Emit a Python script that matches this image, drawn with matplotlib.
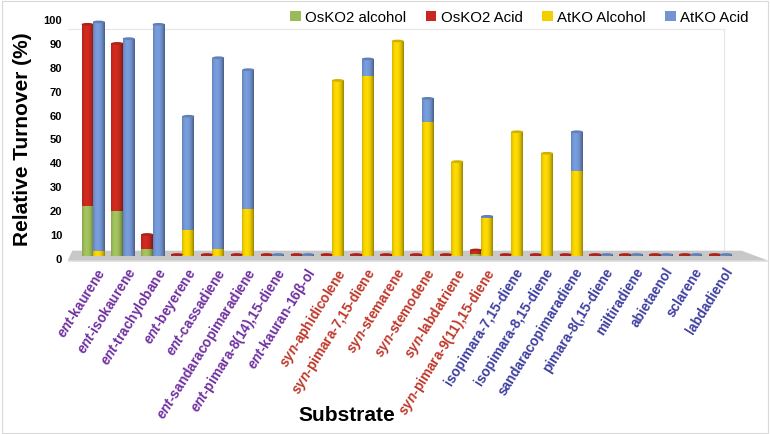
import matplotlib
matplotlib.use("Agg")
import matplotlib.pyplot as plt
import numpy as np
from matplotlib.patches import Polygon, Rectangle, Ellipse
from matplotlib.colors import to_rgb

plt.rcParams['font.family'] = ['Liberation Sans', 'DejaVu Sans']
plt.rcParams['mathtext.fontset'] = 'custom'
plt.rcParams['mathtext.it'] = 'Liberation Sans:italic:bold'
plt.rcParams['mathtext.rm'] = 'Liberation Sans:bold'

substrates = ["ent-kaurene", "ent-isokaurene", "ent-trachylobane", "ent-beyerene",
              "ent-cassadiene", "ent-sandaracopimaradiene", "ent-pimara-8(14),15-diene",
              "ent-kauran-16β-ol", "syn-aphidicolene", "syn-pimara-7,15-diene",
              "syn-stemarene", "syn-stemodene", "syn-labdatriene",
              "syn-pimara-9(11),15-diene", "isopimara-7,15-diene", "isopimara-8,15-diene",
              "sandaracopimaradiene", "pimara-8(,15-diene", "miltiradiene",
              "abietaenol", "sclarene", "labdadienol"]
oskp2_alcohol = [21, 19, 3, 0, 0, 0, 0, 0, 0, 0, 0, 0, 0, 1, 0, 0, 0, 0, 0, 0, 0, 0]
oskp2_acid = [76, 70, 6, 0.6, 0.6, 0.6, 0.6, 0.6, 0.6, 0.6, 0.6, 0.6, 0.6, 1.5,
              0.6, 0.6, 0.6, 0.6, 0.6, 0.6, 0.6, 0.6]
atko_alcohol = [2, 0, 0, 11, 3, 19.5, 0, 0, 73.5, 75.5, 90, 56, 39.5, 16, 52, 43,
                35.5, 0, 0, 0, 0, 0]
atko_acid = [96, 91, 97, 47.5, 80, 58.5, 0.6, 0.6, 0, 7, 0, 10, 0, 0.6, 0, 0,
             16.5, 0.6, 0.6, 0.6, 0.6, 0.6]
series_names = ["OsKO2 alcohol", "OsKO2 Acid", "AtKO Alcohol", "AtKO Acid"]
colors = ["#9BBB59", "#C8281E", "#F2CF00", "#7295D2"]
label_colors = ["#7030A0"] * 8 + ["#C0392B"] * 6 + ["#3F3FA0"] * 8
yticks = [0, 10, 20, 30, 40, 50, 60, 70, 80, 90, 100]

fig = plt.figure(figsize=(7.7, 4.35), dpi=100)
ax = fig.add_axes([0.088, 0.405, 0.875, 0.549])
n = len(substrates)
x = np.arange(n)
ax.set_xlim(-0.85, n - 0.3)
ax.set_ylim(0, 100)

# floor
floor = Polygon([[-0.85, -1.2], [n + 0.6, -1.2], [n - 0.3, 3.0], [-0.7, 3.0]],
                closed=True, facecolor="#C8C8C8", edgecolor="none", zorder=1,
                clip_on=False)
ax.add_patch(floor)
floor2 = Polygon([[-0.85, -1.2], [n + 0.6, -1.2], [n + 0.6, -1.8], [-0.85, -1.8]],
                 closed=True, facecolor="#E4E4E4", edgecolor="none", zorder=1,
                 clip_on=False)
ax.add_patch(floor2)


def shade(c):
    r, g, b = to_rgb(c)
    t = np.linspace(0, 1, 40)
    prof = 0.72 + 0.45 * np.sin(np.pi * (t * 0.9 + 0.05)) ** 0.6
    prof = prof - 0.25 * t
    img = np.zeros((1, len(t), 3))
    for k, ch in enumerate((r, g, b)):
        img[0, :, k] = np.clip(ch * prof, 0, 1)
    return img


w = 0.40
offs = [-0.19, 0.19]
base0 = 0.8
groups = [(oskp2_alcohol, oskp2_acid, colors[0], colors[1], offs[0]),
          (atko_alcohol, atko_acid, colors[2], colors[3], offs[1])]
for a_vals, b_vals, ca, cb, off in groups:
    bars_a = ax.bar(x + off, a_vals, width=w, bottom=base0, color=ca, zorder=3)
    bars_b = ax.bar(x + off, b_vals, width=w, bottom=np.array(a_vals) + base0,
                    color=cb, zorder=3)
    for bars, c in ((bars_a, ca), (bars_b, cb)):
        for p in bars:
            h = p.get_height()
            if h <= 0:
                continue
            x0 = p.get_x()
            y0 = p.get_y()
            im = ax.imshow(shade(c), extent=[x0, x0 + w, y0, y0 + h],
                           aspect="auto", zorder=3.5, interpolation="bilinear")
            im.set_clip_path(p)
    # top cap
    tops = np.array(a_vals) + np.array(b_vals) + base0
    for xi, t, av, bv in zip(x, tops, a_vals, b_vals):
        if av + bv <= 0:
            continue
        capc = cb if bv > 0 else ca
        r, g, b = to_rgb(capc)
        e = Ellipse((xi + off, t), w, 1.1, facecolor=(r * 0.85, g * 0.85, b * 0.85),
                    edgecolor="none", zorder=4)
        ax.add_patch(e)

ax.set_xticks(x)
ax.set_xticklabels([])
for xi, name, lc in zip(x, substrates, label_colors):
    if name.startswith("ent-") or name.startswith("syn-"):
        txt = r"$\it{" + name[:3] + "}$" + name[3:]
    else:
        txt = name
    ax.text(xi + 0.1, -2.8, txt, rotation=58, rotation_mode="anchor",
            ha="right", va="top", color=lc, fontsize=9.8, fontweight="bold",
            transform=ax.transData, clip_on=False)

ax.set_yticks(yticks)
ax.set_yticklabels([str(v) for v in yticks], fontsize=8, fontweight="bold")
ax.tick_params(axis="both", length=0, pad=4)
for s in ax.spines.values():
    s.set_visible(False)
ax.plot([-0.85, n - 0.9], [96, 96], color="#E6E6E6", lw=0.8, zorder=0, clip_on=False)
ax.plot([n - 0.9, n - 0.9], [3, 96], color="#E6E6E6", lw=0.8, zorder=0, clip_on=False)

ax.set_ylabel("Relative Turnover (%)", fontsize=15, fontweight="bold", labelpad=8)
fig.text(0.45, 0.045, "Substrate", fontsize=15, fontweight="bold", ha="center",
         va="center")

handles = [Rectangle((0, 0), 1, 1, facecolor=c) for c in colors]
fig.legend(handles, series_names, loc="upper right", ncol=4, frameon=False,
           bbox_to_anchor=(0.99, 1.005), fontsize=10.8, handlelength=0.7,
           handleheight=0.7, handletextpad=0.3, columnspacing=1.3)

fig.patches.append(Rectangle((0.002, 0.003), 0.995, 0.993, transform=fig.transFigure,
                             fill=False, edgecolor="#D9D9D9", lw=0.8))
fig.savefig("out.png", dpi=100)
